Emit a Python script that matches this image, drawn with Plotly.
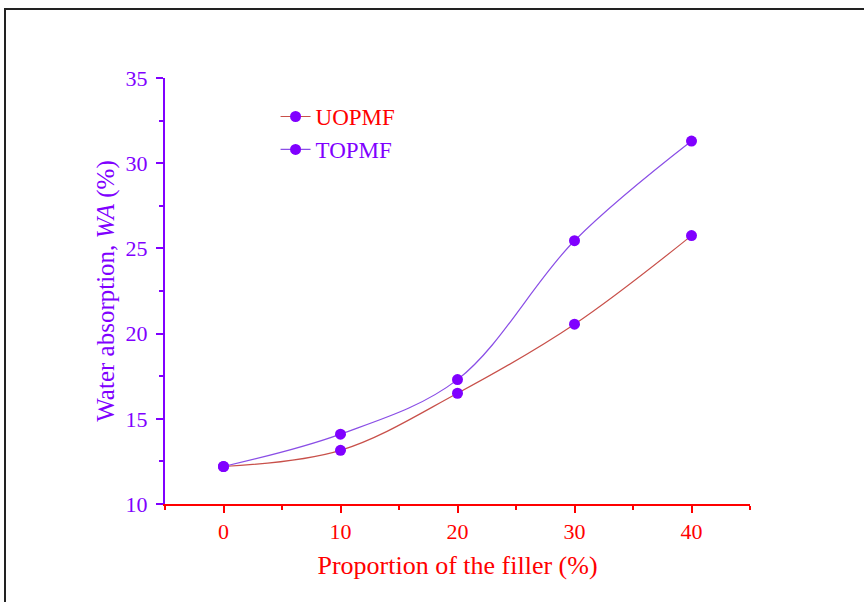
import plotly.graph_objects as go

filler = [0, 10, 20, 30, 40]
uopmf = [12.2, 13.15, 16.5, 20.55, 25.75]
topmf = [12.2, 14.1, 17.3, 25.45, 31.3]

PURPLE = "#8000ff"
RED = "#ff0000"
FONT = "Liberation Serif, Times New Roman, serif"

fig = go.Figure()
fig.add_trace(go.Scatter(
    x=filler, y=uopmf, mode="lines+markers",
    name="<span style='color:#ff0000'>UOPMF</span>",
    line=dict(color="#c8504a", width=1.2, shape="spline", smoothing=1),
    marker=dict(color=PURPLE, size=11),
))
fig.add_trace(go.Scatter(
    x=filler, y=topmf, mode="lines+markers",
    name="<span style='color:#8000ff'>TOPMF</span>",
    line=dict(color="#8a4ee6", width=1.2, shape="spline", smoothing=1),
    marker=dict(color=PURPLE, size=11),
))

fig.update_layout(
    width=864, height=602,
    margin=dict(l=165, r=114, t=78, b=98),
    paper_bgcolor="white", plot_bgcolor="white",
    font=dict(family=FONT, size=22),
    showlegend=True,
    legend=dict(x=0.189, y=0.96, xanchor="left", yanchor="top",
                bgcolor="rgba(0,0,0,0)", font=dict(size=23, family=FONT),
                tracegroupgap=0, itemwidth=30),
    xaxis=dict(
        range=[-5, 45], tickvals=[0, 10, 20, 30, 40],
        showgrid=False, zeroline=False,
        showline=True, linecolor=RED, linewidth=2,
        ticks="outside", ticklen=7, tickwidth=2, tickcolor=RED,
        tickfont=dict(color=RED, size=22, family=FONT),
        minor=dict(tickvals=[-5, 5, 15, 25, 35, 45], ticks="outside",
                   ticklen=4, tickwidth=2, tickcolor=RED),
        title=dict(text="Proportion of the filler (%)",
                   font=dict(color=RED, size=26, family=FONT), standoff=12),
    ),
    yaxis=dict(
        range=[10, 35], tickvals=[10, 15, 20, 25, 30, 35],
        showgrid=False, zeroline=False,
        showline=True, linecolor=PURPLE, linewidth=2,
        ticks="outside", ticklen=7, tickwidth=2, tickcolor=PURPLE,
        tickfont=dict(color=PURPLE, size=22, family=FONT),
        ticklabelstandoff=4,
        minor=dict(tickvals=[12.5, 17.5, 22.5, 27.5, 32.5], ticks="outside",
                   ticklen=4, tickwidth=2, tickcolor=PURPLE),
        title=dict(text="Water absorption, <i>WA</i> (%)",
                   font=dict(color=PURPLE, size=25, family=FONT), standoff=4),
    ),
)

# outer frame of the figure
fig.add_shape(type="rect", xref="paper", yref="paper",
              x0=(5 - 165) / 585, x1=(880 - 165) / 585,
              y0=(504 - 620) / 426, y1=(504 - 9) / 426,
              line=dict(color="#222222", width=2), layer="below")

fig.write_html("out.html")
